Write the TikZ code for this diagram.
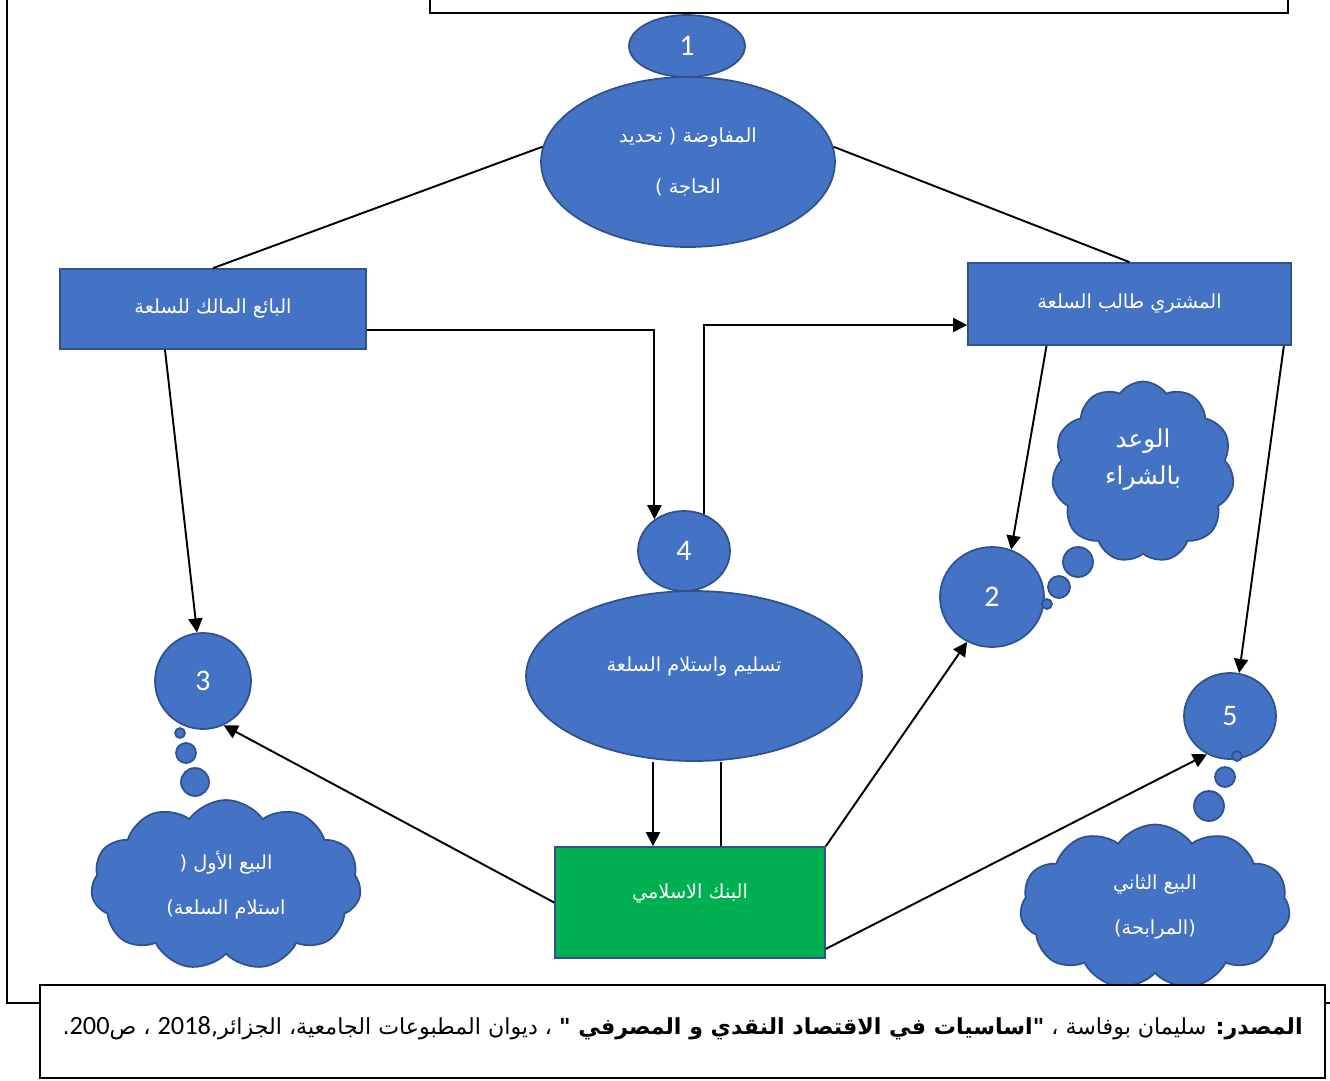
\documentclass[tikz,border=0pt]{standalone}
\usepackage{fontspec}
\newfontfamily\arabicfont[Script=Arabic]{DejaVu Sans}
\newfontfamily\numfont{Carlito}
\TeXXeTstate=1
\usetikzlibrary{calc}
\usetikzlibrary{arrows.meta}
\usetikzlibrary{shapes.geometric,shapes.symbols}
\definecolor{officeblue}{HTML}{4472C4}
\definecolor{officeedge}{HTML}{2F528F}
\definecolor{officegreen}{HTML}{00B050}
\newcommand{\ar}[1]{{\arabicfont\beginR #1\endR}}

\begin{document}
\begin{tikzpicture}[x=0.02cm, y=-0.02cm,
  box/.style={draw=officeedge, line width=1pt, fill=officeblue, text=white, inner sep=0pt,
    font=\fontsize{11}{13}\selectfont},
  oval/.style={ellipse, box},
  num/.style={oval, font=\numfont\fontsize{17}{20}\selectfont},
  puff/.style={cloud, cloud puffs=11, cloud puff arc=110, cloud ignores aspect, box},
  bubble/.style={draw=officeedge, line width=1pt, fill=officeblue},
  link/.style={line width=1.1pt},
  arr/.style={link, -{Triangle[length=8pt,width=8pt]}}]
\useasboundingbox (0,0) rectangle (1330,1080);
% frame
\draw[line width=1pt] (7,0) -- (7,1003) -- (1330,1003);
\draw[line width=1.6pt] (430,0) |- (1288,13) -- (1288,0);
% stage nodes
\node[num, minimum width=2.32cm, minimum height=1.24cm] (n1) at (687,46) {1};
\node[oval, minimum width=5.88cm, minimum height=3.4cm, align=center] (nego) at (688,162)
  {\ar{المفاوضة ( تحديد}\\[16pt]\ar{الحاجة )}};
\node[box, minimum width=6.12cm, minimum height=1.6cm] (seller) at (213,309) {\ar{البائع المالك للسلعة}};
\node[box, minimum width=6.46cm, minimum height=1.64cm] (buyer) at (1129.5,304) {\ar{المشتري طالب السلعة}};
\node[num, minimum width=1.84cm, minimum height=1.6cm] (n4) at (684,551) {4};
\node[oval, minimum width=6.72cm, minimum height=3.4cm, align=center] (deliver) at (694,676)
  {\ar{تسليم واستلام السلعة}\\[0pt]};
\node[box, fill=officegreen, minimum width=5.4cm, minimum height=2.22cm, align=center] (bank) at (690,902.5)
  {\ar{البنك الاسلامي}\\[0pt]};
\node[num, minimum width=1.92cm, minimum height=1.92cm] (n3) at (203,681) {3};
\node[num, minimum width=2.08cm, minimum height=2cm] (n2) at (992,597) {2};
\node[num, minimum width=1.84cm, minimum height=1.72cm] (n5) at (1230,716) {5};
% thought clouds
\node[puff, minimum width=5.4cm, minimum height=3.4cm, align=center] (sale1) at (226,885)
  {\ar{البيع الأول (}\\[13pt]\ar{استلام السلعة)}};
\node[puff, minimum width=3.64cm, minimum height=3.62cm, align=center,
  font=\fontsize{14}{17}\selectfont] (promise) at (1143,472)
  {\ar{الوعد}\\[4pt]\ar{بالشراء}\\};
\node[puff, minimum width=5.4cm, minimum height=3.3cm, align=center] (sale2) at (1155,907)
  {\ar{البيع الثاني}\\[13pt]\ar{(المرابحة)}};
\filldraw[bubble] (180,733) circle (5) (186,753) circle (10) (195,782) circle (14);
\filldraw[bubble] (1047,604) circle (5) (1059,587) circle (11) (1078,562) circle (15);
\filldraw[bubble] (1237,756) circle (5) (1225,777) circle (10) (1209,806) circle (15);
% connectors
\coordinate (bankin) at ($(bank.north)+(-37,0)$);
\coordinate (bankout) at ($(bank.north)+(31,0)$);
\draw[link] (nego.174) -- (seller.north);
\draw[link] (nego.6) -- (buyer.north);
\draw[arr] ($(seller.east)+(0,21)$) -| (n4.133);
\draw[arr] (n4.61) |- ($(buyer.west)+(0,21)$);
\draw[arr] (bankin |- deliver.south) -- (bankin);
\draw[link] (bankout) -- (bankout |- deliver.south);
\draw[arr] ($(seller.south)+(-48,0)$) -- (n3.97);
\draw[arr] (bank.west) -- (n3.-65);
\draw[arr] ($(buyer.south)+(-83,0)$) -- (n2.68);
\draw[arr] (bank.north east) -- (n2.-119);
\draw[arr] ($(buyer.south east)+(-8,0)$) -- (n5.78);
\draw[arr] ($(bank.south east)+(0,-10)$) -- (n5.-121);
% source
\node[draw, line width=1.2pt, fill=white, minimum width=25.7cm, minimum height=1.86cm] (srcbox) at (682.5,1031.5) {};
\node[anchor=east, inner sep=0pt, font=\fontsize{12.6}{15}\selectfont] (src) at (1303,1028)
  {\ar{\textbf{المصدر:} سليمان بوفاسة ، \textbf{"اساسيات في الاقتصاد النقدي و المصرفي "} ، ديوان المطبوعات الجامعية، الجزائر,\beginL{\numfont\fontsize{15}{15}\selectfont 2018}\endL{} ، ص\beginL{\numfont\fontsize{15}{15}\selectfont 200}\endL.}};
\end{tikzpicture}
\end{document}
